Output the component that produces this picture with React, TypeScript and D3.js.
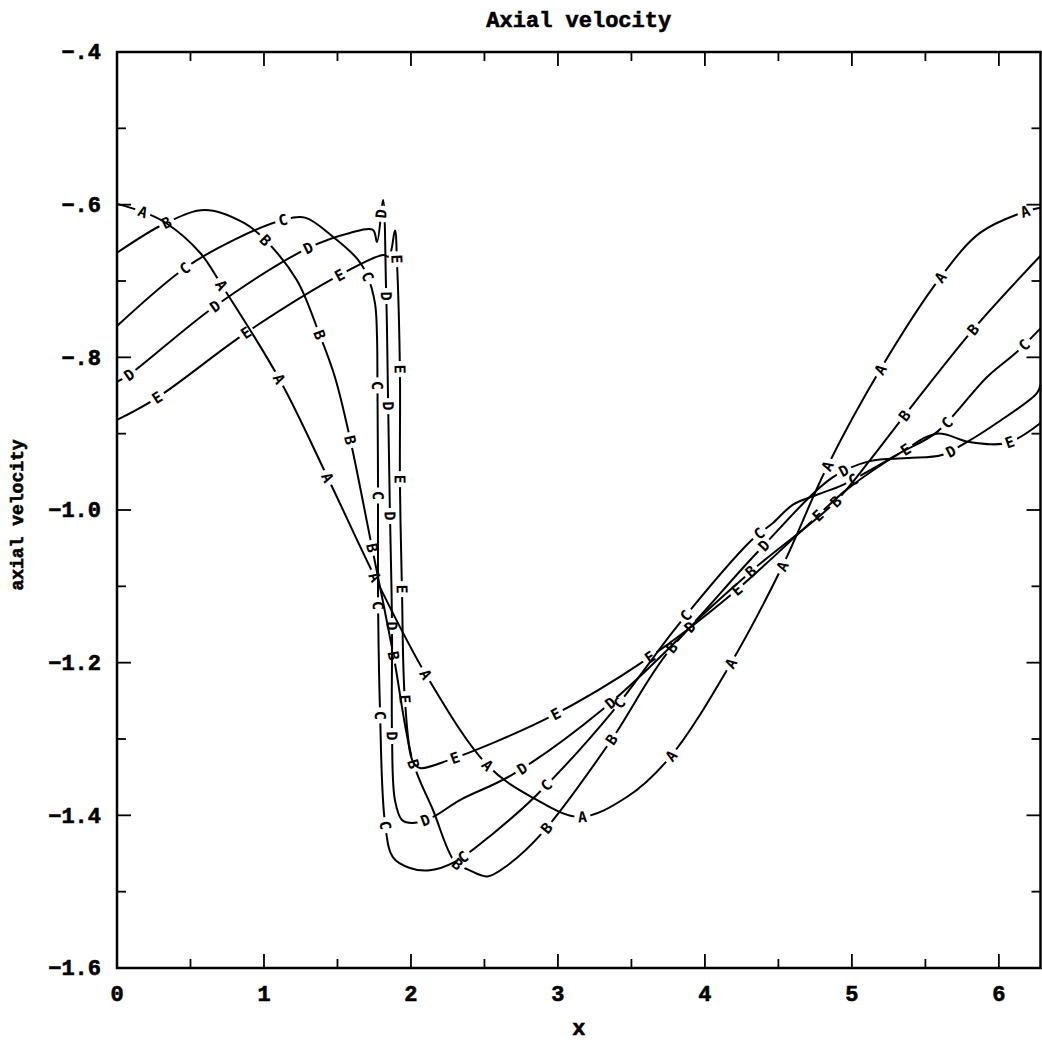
import React, { useEffect, useRef } from 'react';
import * as d3 from 'd3';

// ---------------- data ----------------
const seriesNames = ['A', 'B', 'C', 'D', 'E'];

const xA = [0, 0.17, 0.333, 0.565, 0.714, 1.109, 1.442, 1.755, 2.109, 2.524, 2.83, 3.15, 3.469, 3.762, 4.17, 4.524, 4.83, 5.19, 5.6, 5.871, 6.163, 6.283];
const yA = [-0.599, -0.609, -0.624, -0.663, -0.706, -0.83, -0.961, -1.088, -1.218, -1.335, -1.377, -1.402, -1.376, -1.324, -1.203, -1.075, -0.944, -0.817, -0.696, -0.637, -0.61, -0.604];

const xB = [0, 0.333, 0.599, 0.864, 1.007, 1.224, 1.374, 1.483, 1.585, 1.735, 1.878, 2.014, 2.15, 2.299, 2.4, 2.52, 2.66, 2.898, 3.354, 3.762, 4.286, 4.884, 5.122, 5.347, 5.823, 6.283];
const yB = [-0.663, -0.624, -0.607, -0.624, -0.646, -0.699, -0.768, -0.826, -0.906, -1.049, -1.187, -1.33, -1.393, -1.461, -1.472, -1.48, -1.465, -1.422, -1.304, -1.183, -1.085, -0.99, -0.935, -0.879, -0.764, -0.667];

const xC = [0, 0.463, 0.796, 1.129, 1.279, 1.469, 1.639, 1.701, 1.755, 1.769, 1.772, 1.776, 1.776, 1.789, 1.823, 1.878, 1.993, 2.129, 2.299, 2.558, 2.857, 3.367, 3.816, 4.32, 4.463, 4.599, 4.762, 4.939, 5.34, 5.578, 5.918, 6.122, 6.283];
const yC = [-0.759, -0.683, -0.646, -0.62, -0.617, -0.642, -0.672, -0.692, -0.729, -0.773, -0.834, -0.976, -1.115, -1.259, -1.409, -1.455, -1.469, -1.472, -1.461, -1.424, -1.373, -1.265, -1.151, -1.039, -1.017, -0.993, -0.98, -0.967, -0.924, -0.898, -0.826, -0.793, -0.762];

const xD = [0, 0.082, 0.66, 1.299, 1.585, 1.741, 1.769, 1.81, 1.83, 1.837, 1.844, 1.857, 1.871, 1.871, 1.891, 1.939, 2.014, 2.15, 2.333, 2.687, 3.299, 3.844, 4.354, 4.871, 5.122, 5.374, 5.612, 5.782, 5.986, 6.259, 6.283];
const yD = [-0.832, -0.823, -0.734, -0.657, -0.637, -0.633, -0.649, -0.594, -0.705, -0.764, -0.852, -1.004, -1.148, -1.292, -1.38, -1.406, -1.41, -1.402, -1.38, -1.347, -1.262, -1.164, -1.056, -0.957, -0.936, -0.932, -0.928, -0.911, -0.886, -0.847, -0.836];

const xE = [0, 0.272, 0.884, 1.517, 1.81, 1.85, 1.891, 1.905, 1.925, 1.925, 1.939, 1.959, 2.014, 2.061, 2.252, 2.946, 3.592, 4.19, 4.748, 4.966, 5.34, 5.578, 5.803, 6.061, 6.283];
const yE = [-0.882, -0.853, -0.767, -0.692, -0.666, -0.668, -0.634, -0.676, -0.819, -0.963, -1.107, -1.249, -1.33, -1.338, -1.328, -1.271, -1.197, -1.109, -1.011, -0.973, -0.924, -0.9, -0.911, -0.912, -0.886];

const seriesX = [xA, xB, xC, xD, xE];
const seriesY = [yA, yB, yC, yD, yE];

const xDomain = [0, 2 * Math.PI];
const yDomain = [-1.6, -0.4];
const xMajorTicks = [0, 1, 2, 3, 4, 5, 6];
const xMinorTicks = [0.5, 1.5, 2.5, 3.5, 4.5, 5.5];
const yMajorTicks = [-1.6, -1.4, -1.2, -1.0, -0.8, -0.6, -0.4];
const yTickLabels = ['\u22121.6', '\u22121.4', '\u22121.2', '\u22121.0', '\u2212.8', '\u2212.6', '\u2212.4'];
const yMinorTicks = [-1.5, -1.3, -1.1, -0.9, -0.7, -0.5];

const titleText = 'Axial velocity';
const xTitle = 'x';
const yTitle = 'axial velocity';

// ---------------- layout / style ----------------
const W = 1042;
const H = 1042;
const PL = 117, PR = 1040.5, PT = 52, PB = 968;
const labelStart = [27, 58, 89, 14, 46];
const labelSpacing = 110;
const textFont = "'Liberation Mono', 'Courier New', monospace";
const mono = "'DejaVu Sans Mono', monospace";

export default function App() {
  const ref = useRef<SVGSVGElement>(null);

  useEffect(() => {
    const svg = d3.select(ref.current);
    svg.selectAll('*').remove();
    const x = d3.scaleLinear().domain(xDomain).range([PL, PR]);
    const y = d3.scaleLinear().domain(yDomain).range([PB, PT]);
    const defs = svg.append('defs');

    svg.append('rect').attr('width', W).attr('height', H).attr('fill', '#fff');

    const line = d3
      .line<[number, number]>()
      .x((d) => x(d[0]))
      .y((d) => y(d[1]))
      .curve(d3.curveCatmullRom.alpha(0.5));

    seriesNames.forEach((name, i) => {
      const pts: [number, number][] = seriesX[i].map((v, j) => [v, seriesY[i][j]]);
      const g = svg.append('g');
      const path = g
        .append('path')
        .attr('d', line(pts) as string)
        .attr('fill', 'none')
        .attr('stroke', '#000')
        .attr('stroke-width', 2)
        .attr('stroke-linejoin', 'round');
      const node = path.node() as SVGPathElement;
      const L = node.getTotalLength();
      const mask = defs
        .append('mask')
        .attr('id', 'mask-' + name)
        .attr('maskUnits', 'userSpaceOnUse')
        .attr('x', 0)
        .attr('y', 0)
        .attr('width', W)
        .attr('height', H);
      mask.append('rect').attr('width', W).attr('height', H).attr('fill', '#fff');
      for (let s = labelStart[i]; s < L - 6; s += labelSpacing) {
        const p = node.getPointAtLength(s);
        const p1 = node.getPointAtLength(Math.max(0, s - 3));
        const p2 = node.getPointAtLength(Math.min(L, s + 3));
        let ang = (Math.atan2(p2.y - p1.y, p2.x - p1.x) * 180) / Math.PI;
        if (ang > 90) ang -= 180;
        if (ang < -90) ang += 180;
        const tr = `translate(${p.x},${p.y}) rotate(${ang})`;
        mask
          .append('rect')
          .attr('x', -8)
          .attr('y', -8)
          .attr('width', 16)
          .attr('height', 16)
          .attr('fill', '#000')
          .attr('transform', tr);
        g.append('text')
          .attr('transform', tr)
          .attr('text-anchor', 'middle')
          .attr('dy', '0.36em')
          .attr('font-family', mono)
          .attr('font-weight', 'bold')
          .attr('font-size', 15)
          .attr('fill', '#000')
          .text(name);
      }
      path.attr('mask', `url(#mask-${name})`);
    });

    // frame
    svg
      .append('rect')
      .attr('x', PL)
      .attr('y', PT)
      .attr('width', PR - PL)
      .attr('height', PB - PT)
      .attr('fill', 'none')
      .attr('stroke', '#000')
      .attr('stroke-width', 2.5);

    const ticks = svg.append('g').attr('stroke', '#000').attr('stroke-width', 1.8);
    const maj = 14;
    const min = 9;
    xMajorTicks.forEach((t) => {
      ticks.append('line').attr('x1', x(t)).attr('x2', x(t)).attr('y1', PB).attr('y2', PB - maj);
      ticks.append('line').attr('x1', x(t)).attr('x2', x(t)).attr('y1', PT).attr('y2', PT + maj);
    });
    xMinorTicks.forEach((t) => {
      ticks.append('line').attr('x1', x(t)).attr('x2', x(t)).attr('y1', PB).attr('y2', PB - min);
      ticks.append('line').attr('x1', x(t)).attr('x2', x(t)).attr('y1', PT).attr('y2', PT + min);
    });
    yMajorTicks.forEach((t) => {
      ticks.append('line').attr('x1', PL).attr('x2', PL + maj).attr('y1', y(t)).attr('y2', y(t));
      ticks.append('line').attr('x1', PR).attr('x2', PR - maj).attr('y1', y(t)).attr('y2', y(t));
    });
    yMinorTicks.forEach((t) => {
      ticks.append('line').attr('x1', PL).attr('x2', PL + min).attr('y1', y(t)).attr('y2', y(t));
      ticks.append('line').attr('x1', PR).attr('x2', PR - min).attr('y1', y(t)).attr('y2', y(t));
    });

    const txt = (sel: any) =>
      sel
        .attr('font-family', textFont)
        .attr('font-weight', 'bold')
        .attr('fill', '#000')
        .attr('stroke', '#000')
        .attr('stroke-width', 0.6);

    // tick labels
    xMajorTicks.forEach((t) => {
      txt(svg.append('text'))
        .attr('x', x(t))
        .attr('y', 1001)
        .attr('text-anchor', 'middle')
        .attr('font-size', 22)
        .text(String(t));
    });
    yMajorTicks.forEach((t, k) => {
      txt(svg.append('text'))
        .attr('x', 101)
        .attr('y', y(t))
        .attr('dy', '0.33em')
        .attr('text-anchor', 'end')
        .attr('font-size', 22)
        .text(yTickLabels[k]);
    });

    txt(svg.append('text'))
      .attr('x', (PL + PR) / 2)
      .attr('y', 27)
      .attr('text-anchor', 'middle')
      .attr('font-size', 22)
      .text(titleText);
    txt(svg.append('text'))
      .attr('x', (PL + PR) / 2)
      .attr('y', 1035)
      .attr('text-anchor', 'middle')
      .attr('font-size', 22)
      .text(xTitle);
    txt(svg.append('text'))
      .attr('transform', `translate(23,${(PT + PB) / 2 + 5}) rotate(-90)`)
      .attr('text-anchor', 'middle')
      .attr('font-size', 18)
      .text(yTitle);
  }, []);

  return (
    <svg
      ref={ref}
      width={W}
      height={H}
      style={{ position: 'absolute', left: 0, top: 0, display: 'block' }}
    />
  );
}
